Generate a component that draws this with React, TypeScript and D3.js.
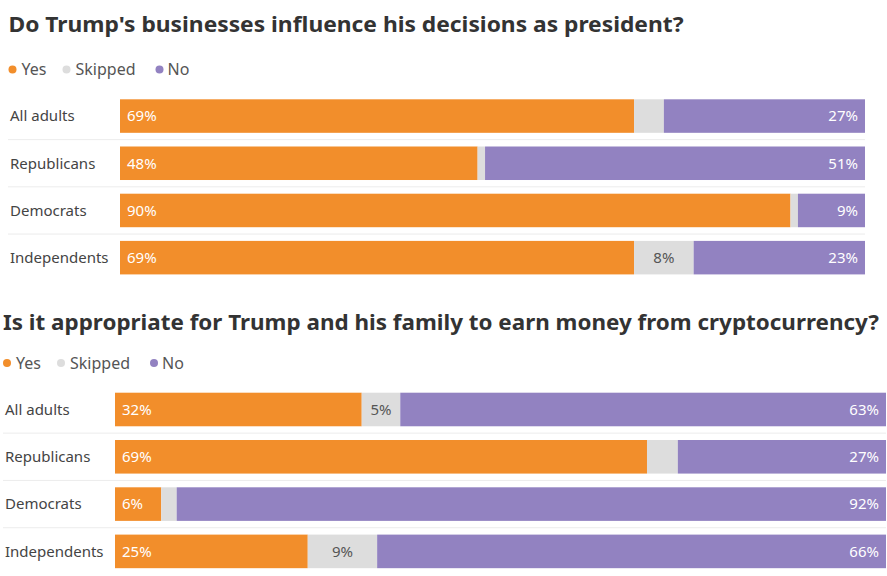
import React, { useMemo } from "react";
import * as d3 from "d3";

const W = 887;
const H = 576;

const groups = ["All adults", "Republicans", "Democrats", "Independents"];
const answers = ["Yes", "Skipped", "No"];

const title1 = "Do Trump's businesses influence his decisions as president?";
const yes1 = [69, 48, 90, 69];
const skipped1 = [4, 1, 1, 8];
const no1 = [27, 51, 9, 23];

const title2 = "Is it appropriate for Trump and his family to earn money from cryptocurrency?";
const yes2 = [32, 69, 6, 25];
const skipped2 = [5, 4, 2, 9];
const no2 = [63, 27, 92, 66];

const colors = { Yes: "#f28e2b", Skipped: "#dddddd", No: "#9282c1" };
const font = "'Noto Sans', 'Open Sans', sans-serif";

const Panel = (props: any) => {
    const {
        title, titleY, titleLen, legendY, legendX, labelX, x0, x1, top, step,
        yes, skipped, no,
    } = props;

    const x = useMemo(() => d3.scaleLinear([0, 100], [x0, x1]), [x0, x1]);
    const pad = 0.29;
    const y = useMemo(
        () =>
            d3
                .scaleBand()
                .domain(groups)
                .range([top - (step * pad) / 2, top - (step * pad) / 2 + groups.length * step])
                .paddingInner(pad)
                .paddingOuter(pad / 2),
        [top, step]
    );

    const rows = groups.map((g, i) => {
        const vals = [yes[i], skipped[i], no[i]];
        const stack: any[] = [];
        let acc = 0;
        vals.forEach((v, j) => {
            stack.push({ key: answers[j], v, a: acc, b: acc + v });
            acc += v;
        });
        return { g, stack };
    });

    // legend item offsets (dot x, text x) relative to legendX
    const legendPos = [
        [0, 9],
        [54, 63],
        [147, 155],
    ];

    return (
        <g>
            <text
                x={legendX - 4}
                y={titleY}
                fontFamily={font}
                fontWeight={700}
                fontSize={22}
                fill="#333"
                textLength={titleLen}
                lengthAdjust="spacingAndGlyphs"
            >
                {title}
            </text>
            {answers.map((a, i) => (
                <g key={a}>
                    <circle cx={legendX + legendPos[i][0]} cy={legendY - 5.5} r={4} fill={(colors as any)[a]} />
                    <text x={legendX + legendPos[i][1]} y={legendY} fontFamily={font} fontSize={16} fill="#555">
                        {a}
                    </text>
                </g>
            ))}
            {rows.slice(1).map((r) => (
                <line
                    key={"sep" + r.g}
                    x1={labelX - 2}
                    x2={x1}
                    y1={(y(r.g) as number) - (step - y.bandwidth()) / 2}
                    y2={(y(r.g) as number) - (step - y.bandwidth()) / 2}
                    stroke="#ececec"
                    strokeWidth={1}
                />
            ))}
            {rows.map((r) => {
                const yy = y(r.g) as number;
                const bh = y.bandwidth();
                const cy = yy + bh / 2;
                return (
                    <g key={r.g}>
                        <text
                            x={labelX}
                            y={cy}
                            dy="0.35em"
                            fontFamily={font}
                            fontSize={15}
                            fill="#444"
                        >
                            {r.g}
                        </text>
                        {r.stack.map((s: any) => (
                            <rect
                                key={s.key}
                                x={x(s.a)}
                                y={yy}
                                width={x(s.b) - x(s.a)}
                                height={bh}
                                fill={(colors as any)[s.key]}
                            />
                        ))}
                        {r.stack.map((s: any) => {
                            if (s.key === "Skipped" && s.v < 5) return null;
                            const tx =
                                s.key === "Yes" ? x(s.a) + 7 : s.key === "No" ? x(s.b) - 7 : (x(s.a) + x(s.b)) / 2;
                            const anchor = s.key === "Yes" ? "start" : s.key === "No" ? "end" : "middle";
                            return (
                                <text
                                    key={"t" + s.key}
                                    x={tx}
                                    y={cy}
                                    dy="0.35em"
                                    textAnchor={anchor}
                                    fontFamily={font}
                                    fontSize={15}
                                    fill={s.key === "Skipped" ? "#555" : "#fff"}
                                >
                                    {s.v}%
                                </text>
                            );
                        })}
                    </g>
                );
            })}
        </g>
    );
};

export default function App() {
    return (
        <svg
            width={W}
            height={H}
            style={{ position: "absolute", top: 0, left: 0, background: "#fff" }}
        >
            <Panel
                title={title1}
                titleY={31.5}
                titleLen={675}
                legendY={75}
                legendX={12.5}
                labelX={10}
                x0={120}
                x1={865}
                top={99.3}
                step={47.2}
                yes={yes1}
                skipped={skipped1}
                no={no1}
            />
            <Panel
                title={title2}
                titleY={330}
                titleLen={876}
                legendY={368.5}
                legendX={7}
                labelX={5}
                x0={115}
                x1={886}
                top={392.7}
                step={47.3}
                yes={yes2}
                skipped={skipped2}
                no={no2}
            />
        </svg>
    );
}
